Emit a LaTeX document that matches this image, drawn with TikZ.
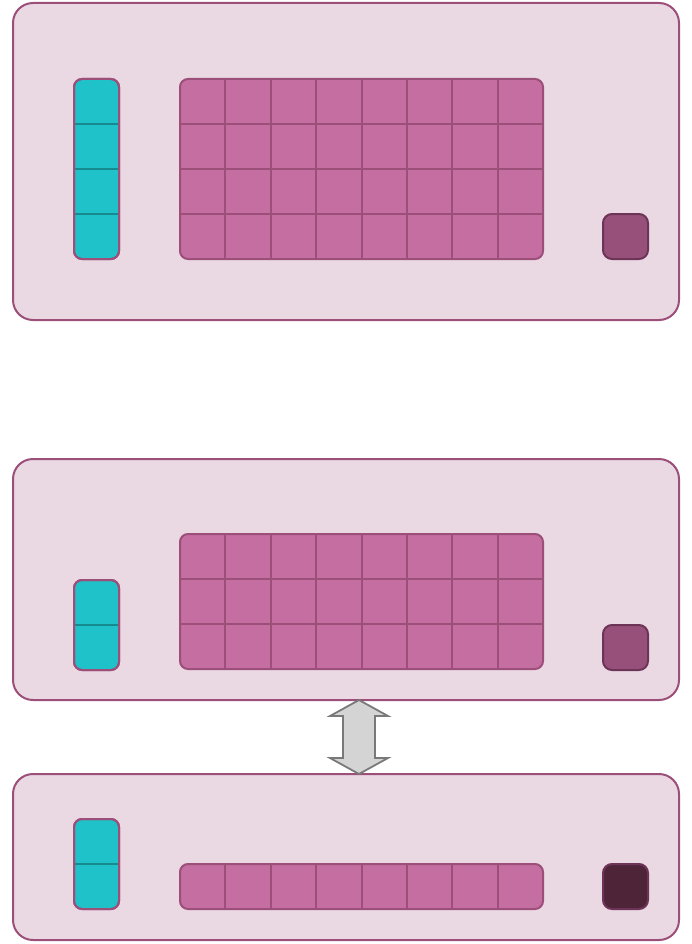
\documentclass[tikz,border=0pt]{standalone}
\usetikzlibrary{calc}
\definecolor{panelfill}{HTML}{EAD9E3}
\definecolor{panelline}{HTML}{9B4F79}
\definecolor{tealfill}{HTML}{20C2C9}
\definecolor{tealline}{HTML}{178A8F}
\definecolor{pinkfill}{HTML}{C56EA2}
\definecolor{sqfill}{HTML}{96507A}
\definecolor{sqline}{HTML}{6E3458}
\definecolor{darksq}{HTML}{4E2439}
\tikzset{
  panel/.style={draw=panelline, fill=panelfill, line width=2pt, rounded corners=20pt},
  tealbox/.style={draw=panelline, fill=tealfill, line width=2pt, rounded corners=8pt},
  tealsep/.style={draw=tealline, line width=2pt},
  gridbox/.style={draw=panelline, fill=pinkfill, line width=2pt, rounded corners=8pt},
  gridsep/.style={draw=panelline, line width=2pt},
  sqbox/.style={draw=sqline, fill=sqfill, line width=2pt, rounded corners=9pt},
  darkbox/.style={draw=sqline, fill=darksq, line width=2pt, rounded corners=9pt},
  arrowshape/.style={draw=gray!95!black, fill=black!17, line width=1.8pt, line join=miter}
}
% #1 x0, #2 y0 top, #3 rows
\newcommand{\tealcol}[3]{%
  \draw[tealbox] (#1,#2) rectangle ++(45,{45*#3});
  \foreach \r in {1,...,#3} {\ifnum\r<#3 \draw[tealsep] (#1+1,{#2+45*\r}) -- ++(43,0);\fi}
  \draw[draw=panelline, line width=2pt, rounded corners=8pt] (#1,#2) rectangle ++(45,{45*#3});
}
\newcommand{\pinkgrid}[2]{%
  \draw[gridbox] (180,#1) rectangle (543,{#1+45*#2});
  \foreach \c in {1,...,7} \draw[gridsep] ({180+45.375*\c},#1) -- ++(0,{45*#2});
  \ifnum#2>1 \foreach \r in {2,...,#2} \draw[gridsep] (180,{#1+45*(\r-1)}) -- (543,{#1+45*(\r-1)});\fi
}
\begin{document}
\begin{tikzpicture}[x=1pt,y=-1pt]
\useasboundingbox (0,0) rectangle (692,944);
% Panel 1
\draw[panel] (13,3) rectangle (679,320);
\tealcol{74}{79}{4}
\pinkgrid{79}{4}
\draw[sqbox] (603,214) rectangle (648,259);
% Panel 2
\draw[panel] (13,459) rectangle (679,700);
\coordinate (p2bottom) at (359,700);
\tealcol{74}{580}{2}
\pinkgrid{534}{3}
\draw[sqbox] (603,625) rectangle (648,670);
% Panel 3
\draw[panel] (13,774) rectangle (679,940);
\coordinate (p3top) at (359,774);
\tealcol{74}{819}{2}
\pinkgrid{864}{1}
\draw[darkbox] (603,864) rectangle (648,909);
% double arrow
\draw[arrowshape] (p2bottom) -- ++(29,16) -- ++(-13,0) -- ++(0,42) -- ++(13,0)
  -- (p3top) -- ++(-29,-16) -- ++(13,0) -- ++(0,-42) -- ++(-13,0) -- cycle;
\end{tikzpicture}
\end{document}
